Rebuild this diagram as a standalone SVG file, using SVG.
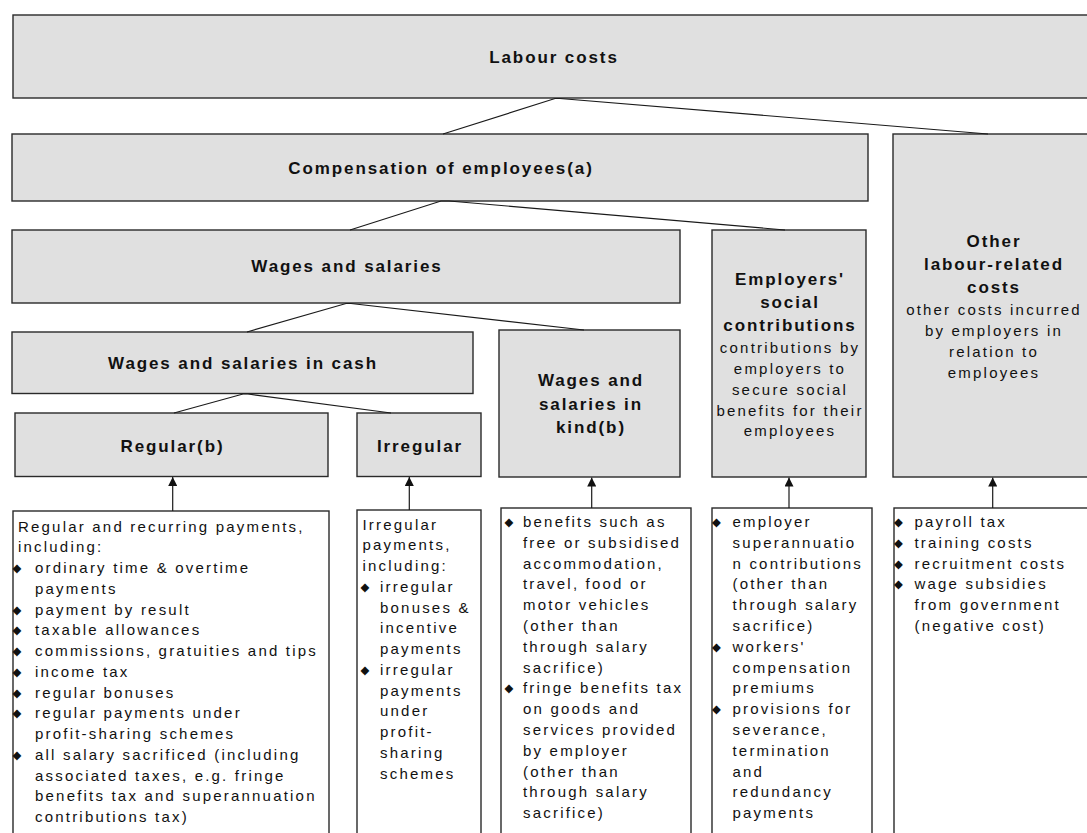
<svg xmlns="http://www.w3.org/2000/svg" width="1087" height="833" viewBox="0 0 1087 833">
<style>
.box{fill:#e0e0e0;stroke:#2a2a2a;stroke-width:1.4}
.list{fill:#ffffff;stroke:#2a2a2a;stroke-width:1.4}
.h{font-family:"Liberation Sans",Arial,sans-serif;font-weight:bold;font-size:17px;letter-spacing:1.9px;text-anchor:middle;fill:#111}
.t{font-family:"Liberation Sans",Arial,sans-serif;font-size:15px;letter-spacing:2.2px;fill:#111}
.c{text-anchor:middle}
.b{font-family:"DejaVu Sans",sans-serif;font-size:11.5px;text-anchor:middle;fill:#111}
.con{stroke:#1a1a1a;stroke-width:1.2;fill:none}
</style>
<defs>
<marker id="ah" markerUnits="userSpaceOnUse" markerWidth="9" markerHeight="9" refX="9" refY="4.5" orient="auto">
<path d="M0,0 L9,4.5 L0,9 Z" fill="#111"/>
</marker>
</defs>
<rect width="1087" height="833" fill="#ffffff"/>

<g id="labour-costs">
<rect class="box" x="13" y="15" width="1082" height="83"/>
<text class="h" x="554" y="63">Labour costs</text>
</g>

<g id="compensation">
<rect class="box" x="12" y="134" width="856" height="67"/>
<text class="h" x="441" y="174">Compensation of employees(a)</text>
</g>

<g id="other-labour">
<rect class="box" x="893" y="134" width="202" height="343"/>
<text class="h" x="994" y="247">Other</text>
<text class="h" x="994" y="270">labour-related</text>
<text class="h" x="994" y="293">costs</text>
<text class="t c" x="994" y="315">other costs incurred</text>
<text class="t c" x="994" y="336">by employers in</text>
<text class="t c" x="994" y="356.5">relation to</text>
<text class="t c" x="994" y="377.5">employees</text>
</g>

<g id="wages-salaries">
<rect class="box" x="12" y="230" width="668" height="73"/>
<text class="h" x="347" y="272">Wages and salaries</text>
</g>

<g id="employers-social">
<rect class="box" x="712" y="230" width="154" height="247"/>
<text class="h" x="790" y="285">Employers'</text>
<text class="h" x="790" y="307.5">social</text>
<text class="h" x="790" y="331">contributions</text>
<text class="t c" x="790" y="353.3">contributions by</text>
<text class="t c" x="790" y="374">employers to</text>
<text class="t c" x="790" y="394.8">secure social</text>
<text class="t c" x="790" y="415.6">benefits for their</text>
<text class="t c" x="790" y="436.4">employees</text>
</g>

<g id="wages-cash">
<rect class="box" x="12" y="332" width="461" height="61.5"/>
<text class="h" x="243" y="369">Wages and salaries in cash</text>
</g>

<g id="wages-kind">
<rect class="box" x="499" y="330" width="181" height="147"/>
<text class="h" x="591" y="386">Wages and</text>
<text class="h" x="591" y="409.5">salaries in</text>
<text class="h" x="591" y="433">kind(b)</text>
</g>

<g id="regular">
<rect class="box" x="15" y="413" width="313" height="63.5"/>
<text class="h" x="172.5" y="451.5">Regular(b)</text>
</g>

<g id="irregular">
<rect class="box" x="357" y="413" width="124" height="63.5"/>
<text class="h" x="420" y="451.5">Irregular</text>
</g>

<g id="regular-list">
<rect class="list" x="13" y="511" width="316" height="340"/>
<text class="t" x="18" y="531.5">Regular and recurring payments,</text>
<text class="t" x="18" y="552.2">including:</text>
<text class="b" x="17" y="572">◆</text><text class="t" x="35" y="573">ordinary time &amp; overtime</text>
<text class="t" x="35" y="593.7">payments</text>
<text class="b" x="17" y="613.5">◆</text><text class="t" x="35" y="614.5">payment by result</text>
<text class="b" x="17" y="634.2">◆</text><text class="t" x="35" y="635.2">taxable allowances</text>
<text class="b" x="17" y="655">◆</text><text class="t" x="35" y="656">commissions, gratuities and tips</text>
<text class="b" x="17" y="675.7">◆</text><text class="t" x="35" y="676.7">income tax</text>
<text class="b" x="17" y="696.5">◆</text><text class="t" x="35" y="697.5">regular bonuses</text>
<text class="b" x="17" y="717.2">◆</text><text class="t" x="35" y="718.2">regular payments under</text>
<text class="t" x="35" y="739">profit-sharing schemes</text>
<text class="b" x="17" y="758.7">◆</text><text class="t" x="35" y="759.7">all salary sacrificed (including</text>
<text class="t" x="35" y="780.5">associated taxes, e.g. fringe</text>
<text class="t" x="35" y="801.2">benefits tax and superannuation</text>
<text class="t" x="35" y="822">contributions tax)</text>
</g>

<g id="irregular-list">
<rect class="list" x="357" y="510" width="124" height="340"/>
<text class="t" x="362.5" y="529.5">Irregular</text>
<text class="t" x="362.5" y="550.2">payments,</text>
<text class="t" x="362.5" y="571">including:</text>
<text class="b" x="365" y="590.7">◆</text><text class="t" x="380" y="591.7">irregular</text>
<text class="t" x="380" y="612.5">bonuses &amp;</text>
<text class="t" x="380" y="633.2">incentive</text>
<text class="t" x="380" y="654">payments</text>
<text class="b" x="365" y="673.7">◆</text><text class="t" x="380" y="674.7">irregular</text>
<text class="t" x="380" y="695.5">payments</text>
<text class="t" x="380" y="716.2">under</text>
<text class="t" x="380" y="737">profit-</text>
<text class="t" x="380" y="757.7">sharing</text>
<text class="t" x="380" y="778.5">schemes</text>
</g>

<g id="kind-list">
<rect class="list" x="501" y="508" width="190" height="340"/>
<text class="b" x="509" y="526">◆</text><text class="t" x="523" y="527">benefits such as</text>
<text class="t" x="523" y="547.8">free or subsidised</text>
<text class="t" x="523" y="568.6">accommodation,</text>
<text class="t" x="523" y="589.4">travel, food or</text>
<text class="t" x="523" y="610.2">motor vehicles</text>
<text class="t" x="523" y="631">(other than</text>
<text class="t" x="523" y="651.8">through salary</text>
<text class="t" x="523" y="672.6">sacrifice)</text>
<text class="b" x="509" y="692.4">◆</text><text class="t" x="523" y="693.4">fringe benefits tax</text>
<text class="t" x="523" y="714.2">on goods and</text>
<text class="t" x="523" y="735">services provided</text>
<text class="t" x="523" y="755.8">by employer</text>
<text class="t" x="523" y="776.6">(other than</text>
<text class="t" x="523" y="797.4">through salary</text>
<text class="t" x="523" y="818.2">sacrifice)</text>
</g>

<g id="employers-list">
<rect class="list" x="712" y="508" width="160" height="340"/>
<text class="b" x="716.5" y="526">◆</text><text class="t" x="732.5" y="527">employer</text>
<text class="t" x="732.5" y="547.8">superannuatio</text>
<text class="t" x="732.5" y="568.6">n contributions</text>
<text class="t" x="732.5" y="589.4">(other than</text>
<text class="t" x="732.5" y="610.2">through salary</text>
<text class="t" x="732.5" y="631">sacrifice)</text>
<text class="b" x="716.5" y="650.8">◆</text><text class="t" x="732.5" y="651.8">workers'</text>
<text class="t" x="732.5" y="672.6">compensation</text>
<text class="t" x="732.5" y="693.4">premiums</text>
<text class="b" x="716.5" y="713.2">◆</text><text class="t" x="732.5" y="714.2">provisions for</text>
<text class="t" x="732.5" y="735">severance,</text>
<text class="t" x="732.5" y="755.8">termination</text>
<text class="t" x="732.5" y="776.6">and</text>
<text class="t" x="732.5" y="797.4">redundancy</text>
<text class="t" x="732.5" y="818.2">payments</text>
</g>

<g id="other-list">
<rect class="list" x="894" y="508" width="201" height="340"/>
<text class="b" x="898.5" y="526">◆</text><text class="t" x="914.5" y="527">payroll tax</text>
<text class="b" x="898.5" y="546.8">◆</text><text class="t" x="914.5" y="547.8">training costs</text>
<text class="b" x="898.5" y="567.6">◆</text><text class="t" x="914.5" y="568.6">recruitment costs</text>
<text class="b" x="898.5" y="588.4">◆</text><text class="t" x="914.5" y="589.4">wage subsidies</text>
<text class="t" x="914.5" y="610.2">from government</text>
<text class="t" x="914.5" y="631">(negative cost)</text>
</g>

<g id="connectors">
<path class="con" d="M443,134 L555,98.5 L560,98.5 L988,134"/>
<path class="con" d="M350,230 L441,201 L449,201 L785,230"/>
<path class="con" d="M247,332 L346,303.5 L351,303.5 L584,330"/>
<path class="con" d="M174,413 L243,394 L248,394 L391,413"/>
<line class="con" x1="172.7" y1="511" x2="172.7" y2="477" marker-end="url(#ah)"/>
<line class="con" x1="409.3" y1="510" x2="409.3" y2="477" marker-end="url(#ah)"/>
<line class="con" x1="591.7" y1="508" x2="591.7" y2="477.5" marker-end="url(#ah)"/>
<line class="con" x1="789" y1="508" x2="789" y2="477.5" marker-end="url(#ah)"/>
<line class="con" x1="992.7" y1="508" x2="992.7" y2="477.5" marker-end="url(#ah)"/>
</g>
</svg>
